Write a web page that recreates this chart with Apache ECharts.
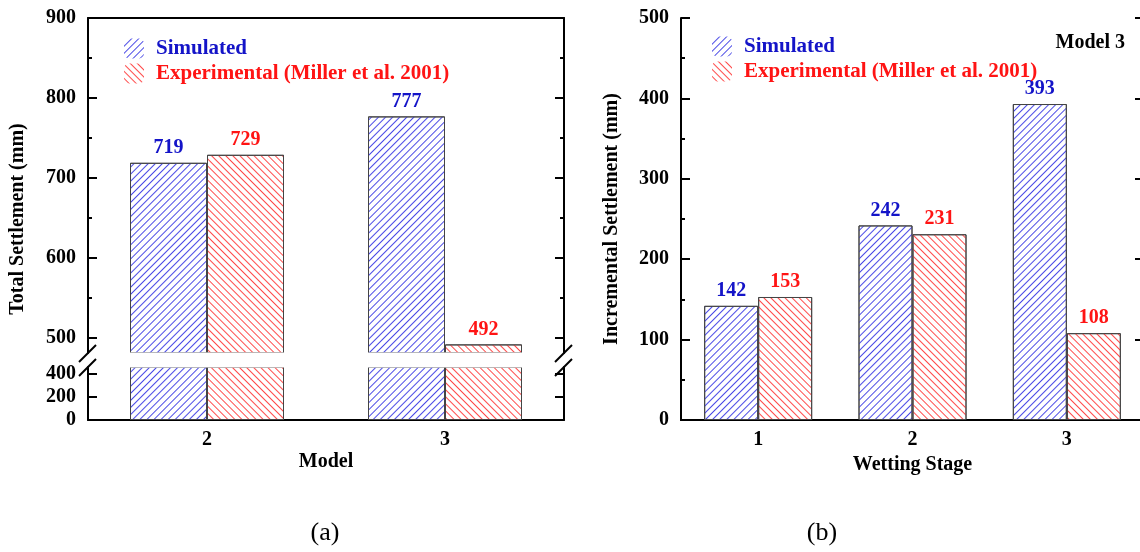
<!DOCTYPE html>
<html>
<head>
<meta charset="utf-8">
<script src="https://cdn.jsdelivr.net/npm/echarts@6/dist/echarts.min.js"></script>
<style>html,body{margin:0;padding:0;background:#fff;}#c{width:1140px;height:552px;}</style>
</head>
<body>
<div id="c"></div>
<script>
const modelCats = ['2', '3'];
const modelSim = [719, 777];
const modelExp = [729, 492];
const stageCats = ['1', '2', '3'];
const stageSim = [142, 242, 393];
const stageExp = [153, 231, 108];
const upperTicks = [500, 600, 700, 800, 900];
const upperMinor = [550, 650, 750, 850];
const lowerTicks = [0, 200, 400];
const nameSim = 'Simulated';
const nameExp = 'Experimental (Miller et al. 2001)';

const FONT = "'Liberation Serif', 'Times New Roman', serif";
const BLUE = '#1414c8';
const RED = '#ff1414';
const UPPER_MIN = 481.25, UPPER_MAX = 900;
const LOWER_MIN = 0, LOWER_MAX = 460;

const chart = echarts.init(document.getElementById('c'));

function decal(color, rot) {
  return { symbol: 'rect', symbolSize: 1, color: color, dashArrayX: [1, 0], dashArrayY: [1, 4], rotation: rot };
}
const simStyle = { color: '#fff', borderColor: '#444', borderWidth: 1, decal: decal('#4a4ae6', -Math.PI / 4) };
const expStyle = { color: '#fff', borderColor: '#444', borderWidth: 1, decal: decal('#ff4a4a', Math.PI / 4) };

function bar(name, data, xi, yi, style, width, labelColor) {
  return {
    type: 'bar', name: name, data: data, xAxisIndex: xi, yAxisIndex: yi,
    barWidth: width, barGap: '0%', clip: true, itemStyle: style,
    emphasis: { disabled: true }, animation: false,
    label: labelColor ? { show: true, position: 'top', distance: 5, color: labelColor,
      fontFamily: FONT, fontWeight: 'bold', fontSize: 20 } : { show: false }
  };
}

const lineStyle = { color: '#000', width: 2 };
const tickLabel = { fontFamily: FONT, fontWeight: 'bold', fontSize: 20, color: '#000' };

function yAx(grid, pos, min, max, opts) {
  return Object.assign({
    type: 'value', gridIndex: grid, position: pos, min: min, max: max,
    splitLine: { show: false },
    axisLine: { show: true, lineStyle: lineStyle },
    axisTick: { show: true, inside: true, length: 9, lineStyle: lineStyle },
    axisLabel: { show: false }
  }, opts);
}

function legendAt(left, top) {
  return { left: left, top: top, orient: 'vertical', itemWidth: 20, itemHeight: 20, itemGap: 4,
    selectedMode: false, itemStyle: { borderWidth: 0 },
    textStyle: { fontFamily: FONT, fontWeight: 'bold', fontSize: 21, padding: [0, 0, 0, 7] },
    data: [ { name: nameSim, textStyle: { color: BLUE } }, { name: nameExp, textStyle: { color: RED } } ] };
}

const option = {
  animation: false,
  grid: [
    { left: 88, width: 476, top: 18, height: 335, outerBoundsMode: 'none', containLabel: false },
    { left: 88, width: 476, top: 367, height: 53, outerBoundsMode: 'none', containLabel: false },
    { left: 681, width: 463, top: 18, height: 402, outerBoundsMode: 'none', containLabel: false }
  ],
  xAxis: [
    { type: 'category', gridIndex: 0, position: 'top', data: modelCats,
      axisLine: { show: true, lineStyle: lineStyle }, axisTick: { show: false }, axisLabel: { show: false } },
    { type: 'category', gridIndex: 1, position: 'bottom', data: modelCats,
      axisLine: { show: true, lineStyle: lineStyle }, axisTick: { show: false },
      axisLabel: Object.assign({ margin: 10 }, tickLabel),
      name: 'Model', nameLocation: 'middle', nameGap: 32, nameTextStyle: tickLabel },
    { type: 'category', gridIndex: 2, position: 'bottom', data: stageCats,
      axisLine: { show: true, lineStyle: lineStyle }, axisTick: { show: false },
      axisLabel: Object.assign({ margin: 10 }, tickLabel),
      name: 'Wetting Stage', nameLocation: 'middle', nameGap: 32, nameTextStyle: tickLabel },
    { type: 'category', gridIndex: 2, position: 'top', data: stageCats,
      axisLine: { show: true, lineStyle: lineStyle }, axisTick: { show: false }, axisLabel: { show: false } }
  ],
  yAxis: [
    yAx(0, 'left', UPPER_MIN, UPPER_MAX, {
      axisTick: { show: true, inside: true, length: 9, lineStyle: lineStyle, customValues: upperTicks },
      axisLabel: Object.assign({ show: true, margin: 12, customValues: upperTicks }, tickLabel) }),
    yAx(0, 'right', UPPER_MIN, UPPER_MAX, {
      axisTick: { show: true, inside: true, length: 9, lineStyle: lineStyle, customValues: upperTicks } }),
    yAx(0, 'left', UPPER_MIN, UPPER_MAX, { axisLine: { show: false },
      axisTick: { show: true, inside: true, length: 4, lineStyle: lineStyle, customValues: upperMinor } }),
    yAx(0, 'right', UPPER_MIN, UPPER_MAX, { axisLine: { show: false },
      axisTick: { show: true, inside: true, length: 4, lineStyle: lineStyle, customValues: upperMinor } }),
    yAx(1, 'left', LOWER_MIN, LOWER_MAX, {
      axisTick: { show: true, inside: true, length: 9, lineStyle: lineStyle, customValues: lowerTicks },
      axisLabel: Object.assign({ show: true, margin: 12, customValues: lowerTicks }, tickLabel) }),
    yAx(1, 'right', LOWER_MIN, LOWER_MAX, {
      axisTick: { show: true, inside: true, length: 9, lineStyle: lineStyle, customValues: lowerTicks } }),
    yAx(2, 'left', 0, 500, { interval: 100,
      minorTick: { show: true, splitNumber: 2, length: 4, lineStyle: lineStyle },
      axisLabel: Object.assign({ show: true, margin: 12 }, tickLabel) }),
    yAx(2, 'right', 0, 500, { interval: 100,
      minorTick: { show: true, splitNumber: 2, length: 4, lineStyle: lineStyle } })
  ],
  legend: [ legendAt(119, 33), legendAt(707, 31) ],
  series: [
    bar(nameSim, modelSim, 0, 0, simStyle, 77, BLUE),
    bar(nameExp, modelExp, 0, 0, expStyle, 77, RED),
    bar(nameSim, modelSim, 1, 4, simStyle, 77, null),
    bar(nameExp, modelExp, 1, 4, expStyle, 77, null),
    bar(nameSim, stageSim, 2, 6, simStyle, 54, BLUE),
    bar(nameExp, stageExp, 2, 6, expStyle, 54, RED)
  ],
  graphic: [
    { type: 'rect', z: 50, shape: { x: 89.5, y: 352.4, width: 472, height: 15.2 }, style: { fill: '#fff' } },
    { type: 'line', z: 60, shape: { x1: 79, y1: 362, x2: 96, y2: 345 }, style: { stroke: '#000', lineWidth: 2 } },
    { type: 'line', z: 60, shape: { x1: 79, y1: 376, x2: 96, y2: 359 }, style: { stroke: '#000', lineWidth: 2 } },
    { type: 'line', z: 60, shape: { x1: 555, y1: 362, x2: 572, y2: 345 }, style: { stroke: '#000', lineWidth: 2 } },
    { type: 'line', z: 60, shape: { x1: 555, y1: 376, x2: 572, y2: 359 }, style: { stroke: '#000', lineWidth: 2 } },
    { type: 'text', z: 60, x: 18, y: 219, rotation: Math.PI / 2,
      style: { text: 'Total Settlement (mm)', font: 'bold 20px ' + FONT, fill: '#000', textAlign: 'center', textVerticalAlign: 'middle' } },
    { type: 'text', z: 60, x: 612, y: 219, rotation: Math.PI / 2,
      style: { text: 'Incremental Settlement (mm)', font: 'bold 20px ' + FONT, fill: '#000', textAlign: 'center', textVerticalAlign: 'middle' } },
    { type: 'text', z: 60, x: 1125, y: 43,
      style: { text: 'Model 3', font: 'bold 20px ' + FONT, fill: '#000', textAlign: 'right', textVerticalAlign: 'middle' } },
    { type: 'text', z: 60, x: 325, y: 533,
      style: { text: '(a)', font: '26px ' + FONT, fill: '#000', textAlign: 'center', textVerticalAlign: 'middle' } },
    { type: 'text', z: 60, x: 822, y: 533,
      style: { text: '(b)', font: '26px ' + FONT, fill: '#000', textAlign: 'center', textVerticalAlign: 'middle' } }
  ]
};
chart.setOption(option);
</script>
</body>
</html>
